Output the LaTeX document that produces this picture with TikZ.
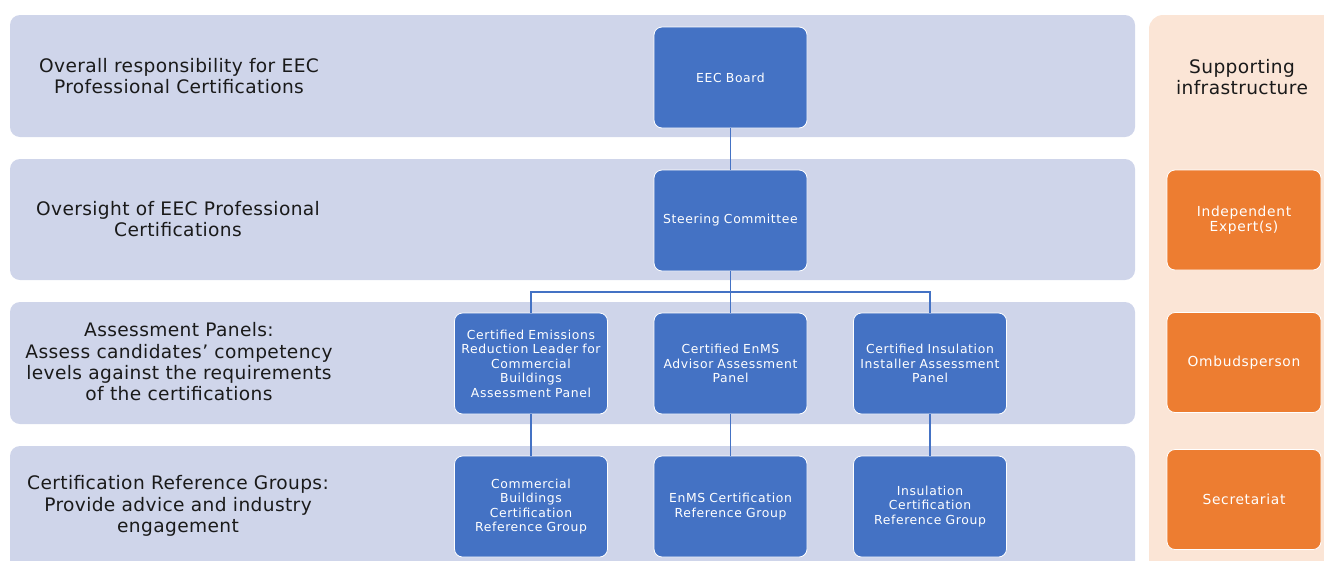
\documentclass[tikz,border=0pt]{standalone}
\usepackage{fontspec}
\setmainfont{DejaVu Sans}
\newfontfamily\boxfont[LetterSpace=5]{DejaVu Sans}
\newfontfamily\lblfont[LetterSpace=2]{DejaVu Sans}
\definecolor{bandblue}{HTML}{CFD5EA}
\definecolor{bandpeach}{HTML}{FBE5D6}
\definecolor{boxblue}{HTML}{4472C4}
\definecolor{boxorange}{HTML}{ED7D31}
\definecolor{linkblue}{HTML}{4472C4}
\definecolor{labeltext}{HTML}{1A1A1A}
\begin{document}
\begin{tikzpicture}[x=1pt,y=-1pt,
  band/.style={fill=bandblue,draw=none,rounded corners=10pt},
  unit/.style={draw=white,line width=0.8pt,fill=boxblue,rounded corners=8pt,minimum width=153pt,minimum height=101pt,text width=151pt,align=center,text=white,font=\boxfont\fontsize{12.4}{14.5}\selectfont,inner sep=0pt},
  support/.style={draw=white,line width=0.8pt,fill=boxorange,rounded corners=8pt,minimum width=154pt,minimum height=100pt,text width=150pt,align=center,text=white,font=\boxfont\fontsize{13.8}{15}\selectfont,inner sep=0pt},
  rowlabel/.style={align=center,text=labeltext,font=\lblfont\fontsize{18.6}{21.3}\selectfont,inner sep=0pt},
  link/.style={draw=linkblue,line width=1.1pt}]
\useasboundingbox (0,0) rectangle (1324,560);
\clip (0,0) rectangle (1324,560);
% bands
\fill[band] (10,15) rectangle (1135,137);
\fill[band] (10,159) rectangle (1135,280);
\fill[band] (10,302) rectangle (1135,424);
\fill[band] (10,446) rectangle (1135,580);
\fill[fill=bandpeach,rounded corners=14pt] (1149,15) rectangle (1345,580);
% row labels
\node[rowlabel] (l1) at (179,76) {Overall responsibility for EEC\\Professional Certifications};
\node[rowlabel] (l2) at (178,219) {Oversight of EEC Professional\\Certifications};
\node[rowlabel] (l3) at (179,362) {Assessment Panels:\\Assess candidates’ competency\\levels against the requirements\\of the certifications};
\node[rowlabel] (l4) at (178,506) {Certification Reference Groups:\\Provide advice and industry\\engagement};
\node[rowlabel] (l5) at (1242,77) {Supporting\\infrastructure};
% blue units
\node[unit] (board) at (730.5,77.5) {EEC Board};
\node[unit] (steer) at (730.5,220.5) {Steering Committee};
\node[unit] (p1) at (531,363.5) {Certified Emissions\\Reduction Leader for\\Commercial\\Buildings\\Assessment Panel};
\node[unit] (p2) at (730.5,363.5) {Certified EnMS\\Advisor Assessment\\Panel};
\node[unit] (p3) at (930,363.5) {Certified Insulation\\Installer Assessment\\Panel};
\node[unit] (g1) at (531,506.5) {Commercial\\Buildings\\Certification\\Reference Group};
\node[unit] (g2) at (730.5,506.5) {EnMS Certification\\Reference Group};
\node[unit] (g3) at (930,506.5) {Insulation\\Certification\\Reference Group};
% orange units
\node[support] (s1) at (1244,220) {Independent\\Expert(s)};
\node[support] (s2) at (1244,362.5) {Ombudsperson};
\node[support] (s3) at (1244,499.5) {Secretariat};
% connectors
\coordinate (bus) at (730.5,292);
\draw[link] (board.south) -- (steer.north);
\draw[link] (steer.south) -- (bus);
\draw[link] (bus) -| (p1.north);
\draw[link] (bus) -- (p2.north);
\draw[link] (bus) -| (p3.north);
\draw[link] (p1.south) -- (g1.north);
\draw[link] (p2.south) -- (g2.north);
\draw[link] (p3.south) -- (g3.north);
\end{tikzpicture}
\end{document}
